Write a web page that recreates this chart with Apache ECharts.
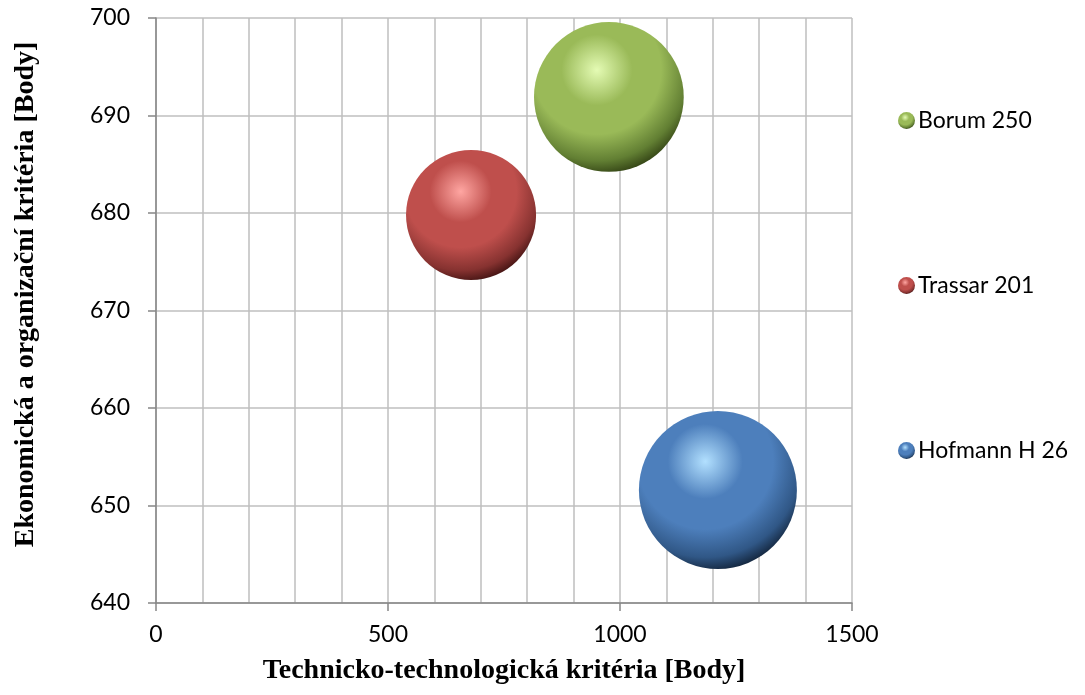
<!DOCTYPE html>
<html>
<head>
<meta charset="utf-8">
<script src="https://cdn.jsdelivr.net/npm/echarts@6/dist/echarts.min.js"></script>
<style>
  html, body { margin: 0; padding: 0; background: #fff; }
  #chart { width: 1085px; height: 695px; }
</style>
</head>
<body>
<div id="chart"></div>
<script>
var names = ['Borum 250', 'Trassar 201', 'Hofmann H 26'];
var techScore = [976, 679, 1211];   // x
var econScore = [691.9, 679.8, 651.6]; // y
var bubbleSize = [1670, 1260, 1860];

// sphere shading per series: highlight, base, dark, edge
var shades = [
    ['#e4fbb4', '#9aba58', '#627f33', '#222e0a'],
    ['#ffa6a2', '#bf4f4c', '#863230', '#2a0808'],
    ['#b2e0ff', '#4d7fbc', '#305786', '#081220']
];

function sphere(c) {
    return {
        type: 'radial', x: 0.42, y: 0.32, r: 0.74,
        colorStops: [
            { offset: 0, color: c[0] },
            { offset: 0.32, color: c[1] },
            { offset: 0.58, color: c[1] },
            { offset: 0.82, color: c[2] },
            { offset: 1, color: c[3] }
        ]
    };
}

var maxSize = Math.max.apply(null, bubbleSize);
var series = [];
for (var i = 0; i < names.length; i++) {
    series.push({
        name: names[i],
        type: 'scatter',
        data: [[techScore[i], econScore[i], bubbleSize[i]]],
        symbolSize: function (d) {
            return 158 * Math.sqrt(d[2] / maxSize);
        },
        itemStyle: { color: sphere(shades[i]), opacity: 1 }
    });
}

var chart = echarts.init(document.getElementById('chart'));
var font = 'Lato, "Open Sans", sans-serif';
var titleFont = '"Liberation Serif", "Times New Roman", serif';

option = {
    backgroundColor: '#fff',
    animation: false,
    grid: { left: 156, right: 233, top: 18, bottom: 92 },
    legend: {
        orient: 'vertical',
        left: 893,
        top: 104,
        itemGap: 142,
        itemWidth: 17,
        itemHeight: 17,
        icon: 'circle',
        textStyle: { fontFamily: font, fontSize: 23, color: '#000', padding: [0, 0, 0, -2] },
        data: names
    },
    xAxis: {
        type: 'value',
        min: 0, max: 1500, interval: 500,
        name: 'Technicko-technologická kritéria [Body]',
        nameLocation: 'middle',
        nameGap: 54,
        nameTextStyle: { fontFamily: titleFont, fontSize: 28, fontWeight: 'bold', color: '#000' },
        axisLine: { lineStyle: { color: '#868686', width: 1.5 } },
        axisTick: { show: true, length: 8, lineStyle: { color: '#868686', width: 1.5 } },
        axisLabel: { fontFamily: font, fontSize: 23, color: '#000', margin: 20,
            formatter: function (v) { return String(v); } },
        splitLine: { lineStyle: { color: '#bfbfbf', width: 1.5 } },
        minorTick: { show: false, splitNumber: 5 },
        minorSplitLine: { show: true, lineStyle: { color: '#bfbfbf', width: 1.5 } }
    },
    yAxis: {
        type: 'value',
        min: 640, max: 700, interval: 10,
        name: 'Ekonomická a organizační kritéria [Body]',
        nameLocation: 'middle',
        nameGap: 116,
        nameTextStyle: { fontFamily: titleFont, fontSize: 28, fontWeight: 'bold', color: '#000',
            padding: [0, 0, 0, 32] },
        axisLine: { show: true, lineStyle: { color: '#868686', width: 1.5 } },
        axisTick: { show: true, length: 8, lineStyle: { color: '#868686', width: 1.5 } },
        axisLabel: { fontFamily: font, fontSize: 23, color: '#000', margin: 26 },
        splitLine: { lineStyle: { color: '#bfbfbf', width: 1.5 } }
    },
    series: series
};
chart.setOption(option);
</script>
</body>
</html>
